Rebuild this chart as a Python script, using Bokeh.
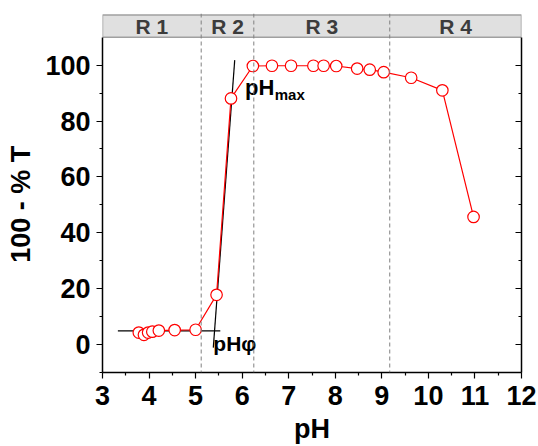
from bokeh.plotting import figure
from bokeh.models import FixedTicker, LinearAxis, Span, Range1d, ColumnDataSource
from bokeh.core.properties import value
from bokeh.embed import file_html
from bokeh.resources import INLINE

FONT = "Liberation Sans"

# data
ph = [3.78, 3.89, 3.98, 4.07, 4.21, 4.55, 5.00, 5.45, 5.76, 6.23, 6.64, 7.05,
      7.53, 7.75, 8.02, 8.47, 8.74, 9.04, 9.63, 10.30, 10.97]
resp = [4.3, 3.5, 4.3, 4.6, 5.0, 5.2, 5.3, 17.8, 88.1, 99.7, 99.8, 99.8,
        99.8, 99.8, 99.7, 98.8, 98.4, 97.5, 95.5, 91.0, 45.7]

# tangent lines
tan_flat_x = [3.33, 5.53]
tan_flat_y = [4.9, 4.9]
tan_steep_x = [5.38, 5.84]
tan_steep_y = [-1.1, 101.8]

# region boundaries and labels
region_bounds = [3.0, 5.12, 6.25, 9.17, 12.0]
region_labels = ["R 1", "R 2", "R 3", "R 4"]

x_ticks = [3, 4, 5, 6, 7, 8, 9, 10, 11, 12]
x_minor = [3.5, 4.5, 5.5, 6.5, 7.5, 8.5, 9.5, 10.5, 11.5]
y_ticks = [0, 20, 40, 60, 80, 100]
y_minor = [-10, 10, 30, 50, 70, 90]

Y_MIN, Y_MAX = -10, 110
BAND_TOP = 118

p = figure(width=538, height=446, output_backend="svg", toolbar_location=None,
           x_range=Range1d(3, 12), y_range=Range1d(Y_MIN, 118.5),
           min_border_left=102, min_border_right=17, min_border_top=13,
           min_border_bottom=73)
p.outline_line_color = None
p.xgrid.visible = False
p.ygrid.visible = False
p.background_fill_color = "white"
p.border_fill_color = "white"

# header band
p.quad(left=[region_bounds[0]], right=[region_bounds[-1]], bottom=[Y_MAX], top=[BAND_TOP],
       fill_color="#e0e0e0", line_color="#a0a0a0", line_width=1.5)
mids = [(region_bounds[i] + region_bounds[i + 1]) / 2 for i in range(len(region_labels))]
p.text(x=mids, y=[(Y_MAX + BAND_TOP) / 2] * len(mids), text=region_labels,
       text_font=value(FONT), text_font_style="bold", text_font_size="21px",
       text_color="#3c3c3c", text_align="center", text_baseline="middle")

for b in region_bounds[1:-1]:
    p.add_layout(Span(location=b, dimension="height", line_color="#808080",
                      line_dash="4 3", line_width=1))

# tangents
p.line(tan_flat_x, tan_flat_y, line_color="black", line_width=1.2)
p.line(tan_steep_x, tan_steep_y, line_color="black", line_width=1.2)

# data
src = ColumnDataSource(dict(x=ph, y=resp))
p.line("x", "y", source=src, line_color="#ff0000", line_width=1.2)
p.scatter("x", "y", source=src, marker="circle", size=11.5, fill_color="white",
          line_color="#ff0000", line_width=1.2)

# annotations
p.text(x=[6.06], y=[92.0], text=["pH"], text_font=value(FONT), text_font_style="bold",
       text_font_size="22px", text_color="black", text_baseline="alphabetic")
p.text(x=[6.70], y=[89.6], text=["max"], text_font=value(FONT), text_font_style="bold",
       text_font_size="15px", text_color="black", text_baseline="alphabetic")
p.text(x=[5.38], y=[0.3], text=["pHφ"], text_font=value(FONT), text_font_style="bold",
       text_font_size="21px", text_color="black", text_baseline="alphabetic")

# axes
xa = p.xaxis[0]
xa.ticker = FixedTicker(ticks=x_ticks, minor_ticks=x_minor)
xa.axis_label = "pH"
ya = p.yaxis[0]
ya.ticker = FixedTicker(ticks=y_ticks, minor_ticks=y_minor)
ya.axis_label = "100 - % T\u00a0\u00a0\u00a0"
ya.bounds = (Y_MIN, Y_MAX)

ra = LinearAxis(ticker=FixedTicker(ticks=y_ticks, minor_ticks=y_minor), bounds=(Y_MIN, Y_MAX))
p.add_layout(ra, "right")

for ax in (xa, ya):
    ax.axis_line_color = "black"
    ax.axis_line_width = 1.5
    ax.major_tick_line_color = "black"
    ax.minor_tick_line_color = "black"
    ax.major_tick_line_width = 1.2
    ax.minor_tick_line_width = 1.2
    ax.major_tick_out = 6
    ax.major_tick_in = 0
    ax.minor_tick_out = 3
    ax.minor_tick_in = 0
    ax.major_label_text_font = FONT
    ax.major_label_text_font_style = "bold"
    ax.major_label_text_font_size = "27px"
    ax.major_label_text_color = "black"
    ax.axis_label_text_font = FONT
    ax.axis_label_text_font_style = "bold"
    ax.axis_label_text_font_size = "27px"
    ax.axis_label_text_color = "black"
    ax.axis_label_standoff = 6

xa.major_label_standoff = 7
ya.major_label_standoff = 6

ra.axis_line_color = "black"
ra.axis_line_width = 1.5
ra.major_tick_line_color = "black"
ra.minor_tick_line_color = "black"
ra.major_tick_line_width = 1.2
ra.minor_tick_line_width = 1.2
ra.major_tick_in = 6
ra.major_tick_out = 0
ra.minor_tick_in = 3
ra.minor_tick_out = 0
ra.major_label_text_color = None
ra.major_label_text_font_size = "1px"
ra.major_label_standoff = 0

open("out.html", "w").write(file_html(p, INLINE))
